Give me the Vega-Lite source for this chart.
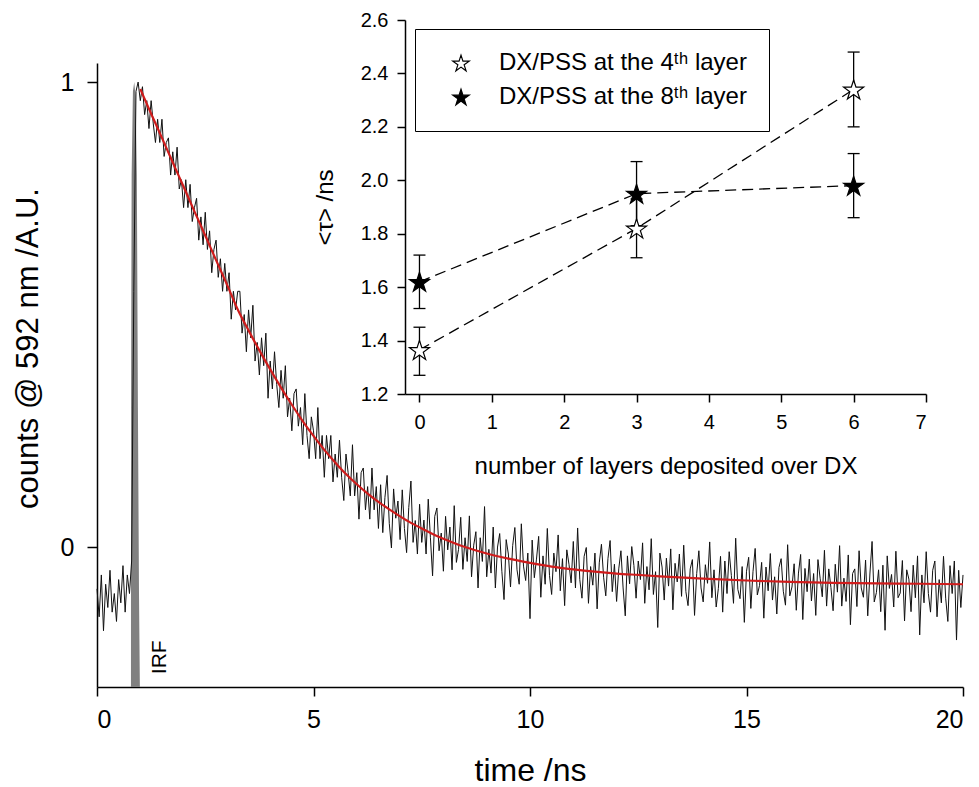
{
"$schema": "https://vega.github.io/schema/vega-lite/v6.json",
"width": 866,
"height": 624,
"autosize": {"type": "none"},
"padding": {"left": 97, "top": 63, "right": 16, "bottom": 100},
"background": "white",
"config": {
  "view": {"stroke": null},
  "font": "Liberation Sans",
  "axis": {"grid": false, "domainColor": "black", "domainWidth": 1.5, "tickColor": "black", "tickWidth": 1.5, "labelColor": "black", "titleColor": "black", "labelFont": "Liberation Sans", "titleFont": "Liberation Sans", "titleFontWeight": "normal"},
  "legend": {"strokeColor": "black", "fillColor": "white", "orient": "none", "legendX": 318, "legendY": -34, "padding": 22, "rowPadding": 10, "symbolSize": 300, "symbolStrokeWidth": 1.2, "labelFontSize": 24, "labelFont": "Liberation Sans", "labelColor": "black", "labelOffset": 26, "symbolOffset": 12, "labelLimit": 500}
},
"datasets": {
  "trace": [
    {"t":0.00,"v":-0.09},{"t":0.05,"v":-0.15},{"t":0.10,"v":-0.06},{"t":0.15,"v":-0.18},{"t":0.20,"v":-0.08},{"t":0.25,"v":-0.13},{"t":0.30,"v":-0.05},{"t":0.35,"v":-0.14},{"t":0.40,"v":-0.10},{"t":0.45,"v":-0.16},
    {"t":0.50,"v":-0.07},{"t":0.55,"v":-0.12},{"t":0.60,"v":-0.04},{"t":0.65,"v":-0.14},{"t":0.70,"v":-0.06},{"t":0.75,"v":-0.10},{"t":0.80,"v":-0.03},{"t":0.85,"v":0.55},{"t":0.90,"v":0.98},{"t":0.95,"v":1.00},
    {"t":1.00,"v":0.96},{"t":1.05,"v":0.99},{"t":1.10,"v":0.93},{"t":1.15,"v":0.96},{"t":1.20,"v":0.90},{"t":1.25,"v":0.96},{"t":1.30,"v":0.91},{"t":1.35,"v":0.87},{"t":1.40,"v":0.92},{"t":1.45,"v":0.87},
    {"t":1.50,"v":0.92},{"t":1.55,"v":0.84},{"t":1.60,"v":0.87},{"t":1.65,"v":0.88},{"t":1.70,"v":0.80},{"t":1.75,"v":0.85},{"t":1.80,"v":0.80},{"t":1.85,"v":0.86},{"t":1.90,"v":0.77},{"t":1.95,"v":0.79},
    {"t":2.00,"v":0.73},{"t":2.05,"v":0.79},{"t":2.10,"v":0.73},{"t":2.15,"v":0.78},{"t":2.20,"v":0.70},{"t":2.25,"v":0.73},{"t":2.30,"v":0.75},{"t":2.35,"v":0.66},{"t":2.40,"v":0.71},{"t":2.45,"v":0.65},
    {"t":2.50,"v":0.72},{"t":2.55,"v":0.64},{"t":2.60,"v":0.68},{"t":2.65,"v":0.59},{"t":2.70,"v":0.64},{"t":2.75,"v":0.66},{"t":2.80,"v":0.58},{"t":2.85,"v":0.62},{"t":2.90,"v":0.55},{"t":2.95,"v":0.61},
    {"t":3.00,"v":0.55},{"t":3.05,"v":0.59},{"t":3.10,"v":0.49},{"t":3.15,"v":0.55},{"t":3.20,"v":0.51},{"t":3.25,"v":0.55},{"t":3.30,"v":0.55},{"t":3.35,"v":0.46},{"t":3.40,"v":0.50},{"t":3.45,"v":0.42},
    {"t":3.50,"v":0.51},{"t":3.55,"v":0.45},{"t":3.60,"v":0.52},{"t":3.65,"v":0.40},{"t":3.70,"v":0.44},{"t":3.75,"v":0.37},{"t":3.80,"v":0.45},{"t":3.85,"v":0.39},{"t":3.90,"v":0.46},{"t":3.95,"v":0.32},
    {"t":4.00,"v":0.40},{"t":4.05,"v":0.34},{"t":4.10,"v":0.42},{"t":4.15,"v":0.35},{"t":4.20,"v":0.30},{"t":4.25,"v":0.38},{"t":4.30,"v":0.32},{"t":4.35,"v":0.39},{"t":4.40,"v":0.28},{"t":4.45,"v":0.32},
    {"t":4.50,"v":0.25},{"t":4.55,"v":0.33},{"t":4.60,"v":0.34},{"t":4.65,"v":0.26},{"t":4.70,"v":0.30},{"t":4.75,"v":0.22},{"t":4.80,"v":0.33},{"t":4.85,"v":0.24},{"t":4.90,"v":0.19},{"t":4.95,"v":0.28},
    {"t":5.00,"v":0.25},{"t":5.05,"v":0.19},{"t":5.10,"v":0.30},{"t":5.15,"v":0.19},{"t":5.20,"v":0.24},{"t":5.25,"v":0.15},{"t":5.30,"v":0.24},{"t":5.35,"v":0.19},{"t":5.40,"v":0.24},{"t":5.45,"v":0.14},
    {"t":5.50,"v":0.20},{"t":5.55,"v":0.15},{"t":5.60,"v":0.23},{"t":5.65,"v":0.15},{"t":5.70,"v":0.10},{"t":5.75,"v":0.20},{"t":5.80,"v":0.16},{"t":5.85,"v":0.11},{"t":5.90,"v":0.22},{"t":5.95,"v":0.11},
    {"t":6.00,"v":0.16},{"t":6.05,"v":0.06},{"t":6.10,"v":0.16},{"t":6.15,"v":0.17},{"t":6.20,"v":0.08},{"t":6.25,"v":0.13},{"t":6.30,"v":0.06},{"t":6.35,"v":0.17},{"t":6.40,"v":0.08},{"t":6.45,"v":0.13},
    {"t":6.50,"v":0.04},{"t":6.55,"v":0.134},{"t":6.60,"v":0.031},{"t":6.65,"v":0.107},{"t":6.70,"v":0.154},{"t":6.75,"v":0.051},{"t":6.80,"v":-0.002},{"t":6.85,"v":0.125},{"t":6.90,"v":0.062},{"t":6.95,"v":0.099},
    {"t":7.00,"v":0.016},{"t":7.05,"v":0.123},{"t":7.10,"v":0.040},{"t":7.15,"v":-0.012},{"t":7.20,"v":0.085},{"t":7.25,"v":0.142},{"t":7.30,"v":0.010},{"t":7.35,"v":0.057},{"t":7.40,"v":-0.015},{"t":7.45,"v":0.092},
    {"t":7.50,"v":0.010},{"t":7.55,"v":0.058},{"t":7.60,"v":-0.015},{"t":7.65,"v":0.103},{"t":7.70,"v":0.020},{"t":7.75,"v":-0.062},{"t":7.80,"v":0.066},{"t":7.85,"v":0.084},{"t":7.90,"v":-0.008},{"t":7.95,"v":0.030},
    {"t":8.00,"v":-0.052},{"t":8.05,"v":0.066},{"t":8.10,"v":-0.006},{"t":8.15,"v":0.043},{"t":8.20,"v":-0.049},{"t":8.25,"v":0.089},{"t":8.30,"v":-0.033},{"t":8.35,"v":-0.005},{"t":8.40,"v":0.064},{"t":8.45,"v":-0.048},
    {"t":8.50,"v":0.020},{"t":8.55,"v":-0.031},{"t":8.60,"v":0.067},{"t":8.65,"v":-0.064},{"t":8.70,"v":0.004},{"t":8.75,"v":0.033},{"t":8.80,"v":-0.088},{"t":8.85,"v":0.020},{"t":8.90,"v":-0.031},{"t":8.95,"v":0.087},
    {"t":9.00,"v":-0.064},{"t":9.05,"v":-0.005},{"t":9.10,"v":-0.056},{"t":9.15,"v":0.043},{"t":9.20,"v":-0.088},{"t":9.25,"v":0.000},{"t":9.30,"v":0.029},{"t":9.35,"v":-0.052},{"t":9.40,"v":-0.113},{"t":9.45,"v":0.016},
    {"t":9.50,"v":-0.015},{"t":9.55,"v":-0.086},{"t":9.60,"v":0.003},{"t":9.65,"v":0.042},{"t":9.70,"v":-0.049},{"t":9.75,"v":-0.080},{"t":9.80,"v":0.050},{"t":9.85,"v":-0.041},{"t":9.90,"v":-0.072},{"t":9.95,"v":-0.013},
    {"t":10.00,"v":-0.154},{"t":10.05,"v":0.015},{"t":10.10,"v":-0.066},{"t":10.15,"v":-0.026},{"t":10.20,"v":0.023},{"t":10.25,"v":-0.108},{"t":10.30,"v":-0.019},{"t":10.35,"v":-0.080},{"t":10.40,"v":0.040},{"t":10.45,"v":-0.061},
    {"t":10.50,"v":-0.102},{"t":10.55,"v":-0.013},{"t":10.60,"v":-0.053},{"t":10.65,"v":0.026},{"t":10.70,"v":-0.094},{"t":10.75,"v":-0.025},{"t":10.80,"v":-0.126},{"t":10.85,"v":-0.006},{"t":10.90,"v":-0.037},{"t":10.95,"v":-0.077},
    {"t":11.00,"v":0.012},{"t":11.05,"v":-0.088},{"t":11.10,"v":0.041},{"t":11.15,"v":-0.070},{"t":11.20,"v":-0.110},{"t":11.25,"v":-0.020},{"t":11.30,"v":-0.001},{"t":11.35,"v":-0.121},{"t":11.40,"v":-0.042},{"t":11.45,"v":-0.082},
    {"t":11.50,"v":-0.013},{"t":11.55,"v":-0.133},{"t":11.60,"v":-0.034},{"t":11.65,"v":0.006},{"t":11.70,"v":-0.065},{"t":11.75,"v":-0.105},{"t":11.80,"v":-0.025},{"t":11.85,"v":0.014},{"t":11.90,"v":-0.096},{"t":11.95,"v":-0.037},
    {"t":12.00,"v":-0.117},{"t":12.05,"v":-0.047},{"t":12.10,"v":-0.008},{"t":12.15,"v":-0.088},{"t":12.20,"v":-0.148},{"t":12.25,"v":-0.019},{"t":12.30,"v":-0.079},{"t":12.35,"v":0.001},{"t":12.40,"v":-0.040},{"t":12.45,"v":-0.110},
    {"t":12.50,"v":-0.030},{"t":12.55,"v":-0.070},{"t":12.60,"v":0.009},{"t":12.65,"v":-0.121},{"t":12.70,"v":-0.042},{"t":12.75,"v":-0.092},{"t":12.80,"v":0.018},{"t":12.85,"v":-0.102},{"t":12.90,"v":-0.053},{"t":12.95,"v":-0.173},
    {"t":13.00,"v":-0.013},{"t":13.05,"v":-0.043},{"t":13.10,"v":-0.114},{"t":13.15,"v":-0.024},{"t":13.20,"v":-0.084},{"t":13.25,"v":-0.004},{"t":13.30,"v":-0.135},{"t":13.35,"v":-0.035},{"t":13.40,"v":-0.075},{"t":13.45,"v":-0.015},
    {"t":13.50,"v":-0.106},{"t":13.55,"v":0.004},{"t":13.60,"v":-0.096},{"t":13.65,"v":-0.126},{"t":13.70,"v":-0.047},{"t":13.75,"v":-0.027},{"t":13.80,"v":-0.147},{"t":13.85,"v":-0.057},{"t":13.90,"v":-0.008},{"t":13.95,"v":-0.088},
    {"t":14.00,"v":-0.118},{"t":14.05,"v":-0.038},{"t":14.10,"v":-0.078},{"t":14.15,"v":0.011},{"t":14.20,"v":-0.109},{"t":14.25,"v":-0.049},{"t":14.30,"v":-0.129},{"t":14.35,"v":-0.089},{"t":14.40,"v":-0.020},{"t":14.45,"v":-0.140},
    {"t":14.50,"v":-0.030},{"t":14.55,"v":-0.100},{"t":14.60,"v":-0.010},{"t":14.65,"v":-0.061},{"t":14.70,"v":-0.121},{"t":14.75,"v":0.019},{"t":14.80,"v":-0.091},{"t":14.85,"v":-0.111},{"t":14.90,"v":-0.042},{"t":14.95,"v":-0.162},
    {"t":15.00,"v":-0.052},{"t":15.05,"v":-0.022},{"t":15.10,"v":-0.132},{"t":15.15,"v":-0.053},{"t":15.20,"v":-0.003},{"t":15.25,"v":-0.103},{"t":15.30,"v":-0.083},{"t":15.35,"v":-0.033},{"t":15.40,"v":-0.153},{"t":15.45,"v":-0.043},
    {"t":15.50,"v":-0.094},{"t":15.55,"v":-0.014},{"t":15.60,"v":-0.114},{"t":15.65,"v":-0.064},{"t":15.70,"v":-0.144},{"t":15.75,"v":-0.044},{"t":15.80,"v":-0.025},{"t":15.85,"v":-0.095},{"t":15.90,"v":-0.125},{"t":15.95,"v":0.005},
    {"t":16.00,"v":-0.105},{"t":16.05,"v":-0.086},{"t":16.10,"v":-0.036},{"t":16.15,"v":-0.136},{"t":16.20,"v":-0.056},{"t":16.25,"v":-0.016},{"t":16.30,"v":-0.156},{"t":16.35,"v":-0.046},{"t":16.40,"v":-0.096},{"t":16.45,"v":-0.026},
    {"t":16.50,"v":-0.116},{"t":16.55,"v":-0.057},{"t":16.60,"v":-0.147},{"t":16.65,"v":-0.027},{"t":16.70,"v":-0.067},{"t":16.75,"v":-0.107},{"t":16.80,"v":-0.007},{"t":16.85,"v":-0.127},{"t":16.90,"v":-0.047},{"t":16.95,"v":-0.087},
    {"t":17.00,"v":-0.137},{"t":17.05,"v":-0.037},{"t":17.10,"v":-0.097},{"t":17.15,"v":0.003},{"t":17.20,"v":-0.127},{"t":17.25,"v":-0.067},{"t":17.30,"v":-0.117},{"t":17.35,"v":-0.017},{"t":17.40,"v":-0.167},{"t":17.45,"v":-0.057},
    {"t":17.50,"v":-0.047},{"t":17.55,"v":-0.128},{"t":17.60,"v":-0.008},{"t":17.65,"v":-0.088},{"t":17.70,"v":-0.108},{"t":17.75,"v":-0.028},{"t":17.80,"v":-0.148},{"t":17.85,"v":-0.058},{"t":17.90,"v":0.012},{"t":17.95,"v":-0.118},
    {"t":18.00,"v":-0.098},{"t":18.05,"v":-0.049},{"t":18.10,"v":-0.139},{"t":18.15,"v":-0.039},{"t":18.20,"v":-0.179},{"t":18.25,"v":-0.019},{"t":18.30,"v":-0.089},{"t":18.35,"v":-0.059},{"t":18.40,"v":-0.129},{"t":18.45,"v":-0.009},
    {"t":18.50,"v":-0.109},{"t":18.55,"v":-0.099},{"t":18.60,"v":-0.029},{"t":18.65,"v":-0.159},{"t":18.70,"v":-0.049},{"t":18.75,"v":-0.069},{"t":18.80,"v":-0.139},{"t":18.85,"v":-0.039},{"t":18.90,"v":-0.109},{"t":18.95,"v":-0.019},
    {"t":19.00,"v":-0.189},{"t":19.05,"v":-0.060},{"t":19.10,"v":-0.120},{"t":19.15,"v":-0.010},{"t":19.20,"v":-0.100},{"t":19.25,"v":-0.140},{"t":19.30,"v":-0.050},{"t":19.35,"v":-0.030},{"t":19.40,"v":-0.150},{"t":19.45,"v":-0.070},
    {"t":19.50,"v":-0.120},{"t":19.55,"v":-0.020},{"t":19.60,"v":-0.110},{"t":19.65,"v":-0.160},{"t":19.70,"v":-0.040},{"t":19.75,"v":-0.100},{"t":19.80,"v":-0.030},{"t":19.85,"v":-0.200},{"t":19.90,"v":-0.050},{"t":19.95,"v":-0.130},
    {"t":20.00,"v":-0.060}
  ],
  "fit": [
    {"t":1.00,"v":0.985},{"t":1.25,"v":0.932},{"t":1.50,"v":0.880},{"t":1.75,"v":0.827},{"t":2.00,"v":0.775},{"t":2.25,"v":0.722},{"t":2.50,"v":0.670},{"t":2.75,"v":0.617},{"t":3.00,"v":0.565},{"t":3.25,"v":0.511},
    {"t":3.50,"v":0.466},{"t":3.75,"v":0.423},{"t":4.00,"v":0.382},{"t":4.25,"v":0.343},{"t":4.50,"v":0.306},{"t":4.75,"v":0.271},{"t":5.00,"v":0.239},{"t":5.25,"v":0.209},{"t":5.50,"v":0.182},{"t":5.75,"v":0.157},
    {"t":6.00,"v":0.135},{"t":6.25,"v":0.115},{"t":6.50,"v":0.097},{"t":6.75,"v":0.081},{"t":7.00,"v":0.066},{"t":7.25,"v":0.052},{"t":7.50,"v":0.040},{"t":7.75,"v":0.028},{"t":8.00,"v":0.018},{"t":8.50,"v":0.000},
    {"t":9.00,"v":-0.014},{"t":9.50,"v":-0.025},{"t":10.0,"v":-0.034},{"t":10.5,"v":-0.042},{"t":11.0,"v":-0.048},{"t":11.5,"v":-0.053},{"t":12.0,"v":-0.057},{"t":12.5,"v":-0.060},{"t":13.0,"v":-0.063},{"t":14.0,"v":-0.068},
    {"t":15.0,"v":-0.072},{"t":16.0,"v":-0.075},{"t":17.0,"v":-0.077},{"t":18.0,"v":-0.078},{"t":19.0,"v":-0.079},{"t":20.0,"v":-0.080}
  ],
  "irf": [
    {"t":0.784,"v":-0.301},{"t":0.786,"v":0.3},{"t":0.80,"v":0.8},{"t":0.83,"v":0.98},{"t":0.86,"v":1.0},{"t":0.89,"v":0.97},{"t":0.92,"v":0.8},{"t":0.945,"v":0.3},{"t":0.97,"v":-0.1},{"t":0.99,"v":-0.301}
  ],
  "labels": [
    {"name":"IRF"}
  ],
  "tau": [
    {"series":"DX/PSS at the 4ᵗʰ layer","x":0,"tau":1.365,"lo":1.27,"hi":1.45},
    {"series":"DX/PSS at the 4ᵗʰ layer","x":3,"tau":1.82,"lo":1.71,"hi":1.93},
    {"series":"DX/PSS at the 4ᵗʰ layer","x":6,"tau":2.34,"lo":2.20,"hi":2.48},
    {"series":"DX/PSS at the 8ᵗʰ layer","x":0,"tau":1.62,"lo":1.52,"hi":1.72},
    {"series":"DX/PSS at the 8ᵗʰ layer","x":3,"tau":1.95,"lo":1.83,"hi":2.07},
    {"series":"DX/PSS at the 8ᵗʰ layer","x":6,"tau":1.98,"lo":1.86,"hi":2.10}
  ]
},
"layer": [
  {
    "encoding": {
      "x": {"field": "t", "type": "quantitative", "scale": {"domain": [0, 20], "nice": false, "zero": false},
            "axis": {"orient": "bottom", "values": [0, 5, 10, 15, 20], "tickSize": 9, "labelFontSize": 25, "labelPadding": 11, "title": "time /ns", "titleFontSize": 32, "titleY": 93, "titleBaseline": "alphabetic"}},
      "y": {"field": "v", "type": "quantitative", "scale": {"domain": [-0.301, 1.041], "nice": false, "zero": false},
            "axis": {"orient": "left", "values": [0, 1], "format": "d", "tickSize": 10, "labelFontSize": 25, "labelPadding": 13, "title": "counts @ 592 nm /A.U.", "titleFontSize": 31, "titleX": -60, "titleY": 285, "titleBaseline": "alphabetic"}}
    },
    "layer": [
      {"data": {"name": "irf"}, "mark": {"type": "area", "color": "#808080", "opacity": 1}, "encoding": {"y2": {"datum": -0.301}}},
      {"data": {"name": "trace"}, "mark": {"type": "line", "stroke": "#111111", "strokeWidth": 1}, "encoding": {}},
      {"data": {"name": "fit"}, "mark": {"type": "line", "stroke": "#d01c1c", "strokeWidth": 2.2, "interpolate": "monotone"}, "encoding": {}}
    ]
  },
  {
    "data": {"name": "labels"},
    "mark": {"type": "text", "angle": 270, "fontSize": 21, "font": "Liberation Sans", "align": "center", "baseline": "middle", "fill": "black"},
    "encoding": {
      "x": {"datum": 1.45, "type": "quantitative", "scale": {"domain": [0, 20], "nice": false, "zero": false}, "axis": null},
      "y": {"datum": -0.237, "type": "quantitative", "scale": {"domain": [-0.301, 1.041], "nice": false, "zero": false}, "axis": null},
      "text": {"field": "name", "type": "nominal"}
    }
  },
  {
    "encoding": {
      "x": {"field": "x", "type": "quantitative", "scale": {"domain": [-0.2, 7], "range": [308, 829], "nice": false, "zero": false},
            "axis": {"orient": "bottom", "offset": -293, "values": [0, 1, 2, 3, 4, 5, 6, 7], "tickSize": 8, "labelFontSize": 20, "labelPadding": 10, "title": "number of layers deposited over DX", "titleFontSize": 24, "titleY": 79, "titleBaseline": "alphabetic"}},
      "y": {"field": "tau", "type": "quantitative", "title": "<τ> /ns", "scale": {"domain": [1.2, 2.6], "range": [331, -43], "nice": false, "zero": false},
            "axis": {"orient": "left", "offset": -308, "values": [1.2, 1.4, 1.6, 1.8, 2.0, 2.2, 2.4, 2.6], "format": ".1f", "tickSize": 8, "labelFontSize": 20, "labelPadding": 9, "title": "<τ> /ns", "titleFontSize": 24, "titleX": -73, "titleBaseline": "alphabetic"}}
    },
    "layer": [
      {"data": {"values": [{}]}, "mark": {"type": "rect", "fill": null, "stroke": "black", "strokeWidth": 1.5},
       "encoding": {"x": {"datum": -0.2, "type": "quantitative"}, "x2": {"datum": 7}, "y": {"datum": 1.2, "type": "quantitative", "title": "<τ> /ns"}, "y2": {"datum": 2.6}}},
      {"data": {"name": "tau"}, "mark": {"type": "line", "stroke": "black", "strokeWidth": 1.3, "strokeDash": [11, 6]}, "encoding": {"detail": {"field": "series", "type": "nominal"}}},
      {"data": {"name": "tau"}, "mark": {"type": "rule", "stroke": "black", "strokeWidth": 1.3}, "encoding": {"y": {"field": "lo", "type": "quantitative", "title": "<τ> /ns"}, "y2": {"field": "hi"}}},
      {"data": {"name": "tau"}, "mark": {"type": "tick", "orient": "horizontal", "size": 12, "thickness": 1.3, "color": "black", "opacity": 1}, "encoding": {"y": {"field": "lo", "type": "quantitative", "title": "<τ> /ns"}}},
      {"data": {"name": "tau"}, "mark": {"type": "tick", "orient": "horizontal", "size": 12, "thickness": 1.3, "color": "black", "opacity": 1}, "encoding": {"y": {"field": "hi", "type": "quantitative", "title": "<τ> /ns"}}},
      {"data": {"name": "tau"}, "mark": {"type": "point", "filled": true, "size": 441, "strokeWidth": 1.2, "opacity": 1},
       "encoding": {
         "shape": {"field": "series", "type": "nominal", "title": null, "scale": {"domain": ["DX/PSS at the 4ᵗʰ layer", "DX/PSS at the 8ᵗʰ layer"], "range": ["M0,-0.905L0.2245,-0.214L0.951,-0.214L0.363,0.213L0.588,0.904L0,0.477L-0.588,0.904L-0.363,0.213L-0.951,-0.214L-0.2245,-0.214Z", "M0,-0.905L0.2245,-0.214L0.951,-0.214L0.363,0.213L0.588,0.904L0,0.477L-0.588,0.904L-0.363,0.213L-0.951,-0.214L-0.2245,-0.214Z"]}},
         "fill": {"field": "series", "type": "nominal", "title": null, "scale": {"domain": ["DX/PSS at the 4ᵗʰ layer", "DX/PSS at the 8ᵗʰ layer"], "range": ["white", "black"]}},
         "stroke": {"field": "series", "type": "nominal", "title": null, "scale": {"domain": ["DX/PSS at the 4ᵗʰ layer", "DX/PSS at the 8ᵗʰ layer"], "range": ["black", "black"]}}
       }}
    ]
  }
],
"resolve": {"scale": {"x": "independent", "y": "independent"}}
}
